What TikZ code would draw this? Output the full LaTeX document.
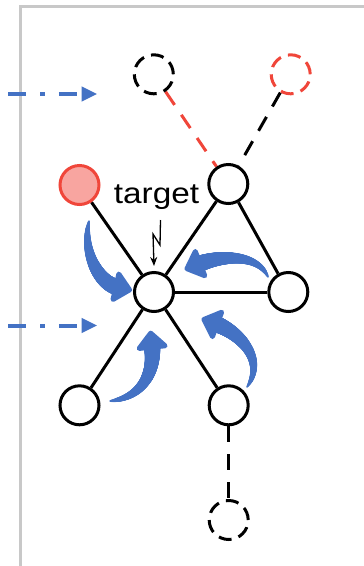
\documentclass[tikz,border=0pt]{standalone}
\usepackage{fontspec}
\setmainfont{Liberation Sans}
\usetikzlibrary{arrows.meta,decorations.markings,backgrounds}
\definecolor{flowblue}{RGB}{68,114,196}
\definecolor{alertred}{RGB}{240,70,58}
\definecolor{alertfill}{RGB}{248,165,160}
\definecolor{framegray}{RGB}{200,200,200}

\tikzset{
  vertex/.style={circle, draw=black, line width=3pt, fill=white,
    minimum size=39pt, inner sep=0pt},
  ghost/.style={circle, draw=black, line width=3pt,
    dash pattern=on 13pt off 7.4pt, minimum size=39pt, inner sep=0pt},
  link/.style={draw=black, line width=3pt},
  dlink/.style={draw=black, line width=3pt, dash pattern=on 16pt off 12pt},
  inject/.style={draw=flowblue, line width=4pt,
    dash pattern=on 18pt off 14pt on 4.5pt off 14pt,
    -{Triangle[length=15.6pt,width=14pt]}},
  % tapered curved arrow: a chain of growing dots plus a rounded head
  flow/.style={postaction={decorate}, decoration={markings,
    mark=between positions 0 and 1 step 0.4pt with {%
      \pgfmathsetmacro\flowr{0.6+7.6*(0.5*(\pgfkeysvalueof{/pgf/decoration/mark info/distance from start})/\pgfdecoratedpathlength+0.5*sqrt((\pgfkeysvalueof{/pgf/decoration/mark info/distance from start})/\pgfdecoratedpathlength+0.0001))}%
      \fill[flowblue] (0pt,0pt) circle (\flowr pt);},
    mark=at position 1 with {%
      \filldraw[flowblue, line width=5pt, line join=round]
        (-1pt,13pt) -- (13pt,0pt) -- (-1pt,-13pt) -- cycle;}}},
}

\begin{document}
\begin{tikzpicture}[x=1pt,y=-1pt]
  \useasboundingbox (0,0) rectangle (364,566);

  % frame
  \draw[framegray, line width=3pt] (20.5,566) -- (20.5,6.3) -- (364,6.3);

  % vertices
  \node[ghost] (gA) at (153.8,74.3) {};
  \node[ghost, draw=alertred] (gB) at (290.7,74.3) {};
  \node[vertex, draw=alertred, fill=alertfill] (att) at (79.5,185) {};
  \node[vertex] (top) at (228.3,184) {};
  \node[vertex] (ctr) at (154,292) {};
  \node[vertex] (rgt) at (288.3,292) {};
  \node[vertex] (bl) at (79.5,405.3) {};
  \node[vertex] (br) at (228.7,405.3) {};
  \node[ghost] (gC) at (228.7,520) {};

  % edges, kept underneath the vertices
  \begin{scope}[on background layer]
    \draw[dlink, draw=alertred] (gA) -- (top);
    \draw[dlink] (gB) -- (top);
    \draw[link] (att) -- (ctr);
    \draw[link] (top) -- (ctr);
    \draw[link] (top) -- (rgt);
    \draw[link] (ctr) -- (rgt);
    \draw[link] (ctr) -- (bl);
    \draw[link] (ctr) -- (br);
    \draw[dlink] (br) -- (gC);
  \end{scope}

  % injected nodes
  \coordinate (inA) at (8.3,94);
  \coordinate (inAe) at (97.3,94);
  \coordinate (inB) at (8.3,325.5);
  \coordinate (inBe) at (97.3,325.5);
  \draw[inject] (inA) -- (inAe);
  \draw[inject] (inB) -- (inBe);

  % label and pointer
  \node[anchor=base, font=\fontsize{29}{30}\selectfont, inner sep=0pt]
    (lbl) at (156.5,203) {\scalebox{1.15}[1]{target}};
  \coordinate (b0) at (160.5,220);
  \coordinate (b1) at (160,245);
  \coordinate (b2) at (153,234);
  \coordinate (b3) at (154,266);
  \draw[line width=1.3pt, -{Stealth[length=9pt,width=7pt]}]
    (b0) -- (b1) -- (b2) -- (b3);

  % aggregation flows
  \path[flow] (89,221) .. controls (82,252) and (99,283) .. (117,287);
  \path[flow] (268,277) .. controls (258,254) and (222,255) .. (199,264);
  \path[flow] (247,387) .. controls (266,360) and (240,333) .. (216,324);
  \path[flow] (110,401) .. controls (140,398) and (155,375) .. (152,346);
\end{tikzpicture}
\end{document}
